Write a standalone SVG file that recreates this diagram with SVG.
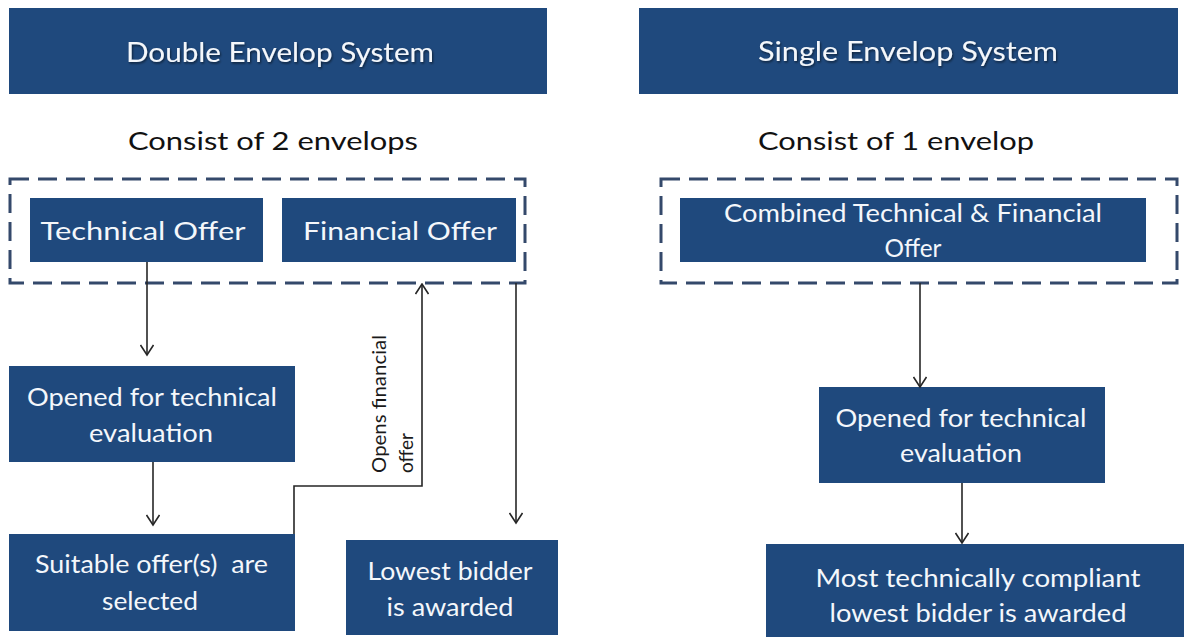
<svg xmlns="http://www.w3.org/2000/svg" width="1184" height="637" viewBox="0 0 1184 637">
  <style>
    .box { fill: #1f497d; }
    .dash { fill: none; stroke: #34496b; stroke-width: 3; stroke-dasharray: 19 9; }
    .t { font-family: Lato, "Open Sans", "Liberation Sans", sans-serif; fill: #f4f7fb; text-anchor: middle; }
    .title { font-size: 26px; }
    .bt { font-size: 25px; }
    .k { font-family: Lato, "Open Sans", "Liberation Sans", sans-serif; fill: #111111; font-size: 25px; text-anchor: middle; }
    .rot { font-family: Lato, "Open Sans", "Liberation Sans", sans-serif; fill: #1a1a1a; font-size: 20px; }
    .c { fill: none; stroke: #262626; stroke-width: 1.6; marker-end: url(#arr); }
  </style>
  <defs>
    <marker id="arr" markerUnits="userSpaceOnUse" markerWidth="14" markerHeight="14" viewBox="0 0 14 14" refX="12.5" refY="7" orient="auto">
      <path d="M2.5,0.5 L12.5,7 L2.5,13.5" fill="none" stroke="#262626" stroke-width="1.6"/>
    </marker>
    <filter id="sh" x="-5%" y="-20%" width="110%" height="140%">
      <feDropShadow dx="1" dy="1.5" stdDeviation="0.8" flood-color="#000000" flood-opacity="0.55"/>
    </filter>
  </defs>

  <g id="title-double">
    <rect class="box" x="9" y="8" width="538" height="86"/>
    <text class="t title" x="280" y="62" textLength="308" lengthAdjust="spacingAndGlyphs" filter="url(#sh)">Double Envelop System</text>
  </g>
  <g id="title-single">
    <rect class="box" x="639" y="8" width="539" height="86"/>
    <text class="t title" x="908" y="61" textLength="300" lengthAdjust="spacingAndGlyphs" filter="url(#sh)">Single Envelop System</text>
  </g>

  <g id="consist-2">
    <text class="k" x="273" y="150" textLength="290" lengthAdjust="spacingAndGlyphs">Consist of 2 envelops</text>
  </g>
  <g id="consist-1">
    <text class="k" x="896" y="150" textLength="276" lengthAdjust="spacingAndGlyphs">Consist of 1 envelop</text>
  </g>

  <g id="envelope-double">
    <rect class="dash" x="10" y="179" width="515" height="104"/>
  </g>
  <g id="envelope-single">
    <rect class="dash" x="661" y="179" width="516" height="104"/>
  </g>

  <g id="technical-offer">
    <rect class="box" x="30" y="198" width="233" height="64"/>
    <text class="t bt" x="143" y="240" textLength="205" lengthAdjust="spacingAndGlyphs">Technical Offer</text>
  </g>
  <g id="financial-offer">
    <rect class="box" x="282" y="198" width="234" height="64"/>
    <text class="t bt" x="400" y="240" textLength="194" lengthAdjust="spacingAndGlyphs">Financial Offer</text>
  </g>
  <g id="combined-offer">
    <rect class="box" x="680" y="198" width="466" height="64"/>
    <text class="t bt" x="913" y="222" textLength="378" lengthAdjust="spacingAndGlyphs">Combined Technical &amp; Financial</text>
    <text class="t bt" x="913" y="257" textLength="57" lengthAdjust="spacingAndGlyphs">Offer</text>
  </g>

  <g id="opened-left">
    <rect class="box" x="9" y="366" width="286" height="96"/>
    <text class="t bt" x="152" y="406" textLength="250" lengthAdjust="spacingAndGlyphs">Opened for technical</text>
    <text class="t bt" x="151" y="442" textLength="124" lengthAdjust="spacingAndGlyphs">evaluation</text>
  </g>
  <g id="suitable">
    <rect class="box" x="9" y="534" width="286" height="97"/>
    <text class="t bt" x="151.5" y="573" textLength="233" lengthAdjust="spacingAndGlyphs" style="white-space:pre">Suitable offer(s)  are</text>
    <text class="t bt" x="150" y="610" textLength="96" lengthAdjust="spacingAndGlyphs">selected</text>
  </g>
  <g id="lowest">
    <rect class="box" x="346" y="540" width="212" height="95"/>
    <text class="t bt" x="450" y="580" textLength="165" lengthAdjust="spacingAndGlyphs">Lowest bidder</text>
    <text class="t bt" x="450" y="616" textLength="127" lengthAdjust="spacingAndGlyphs">is awarded</text>
  </g>
  <g id="opened-right">
    <rect class="box" x="819" y="387" width="286" height="96"/>
    <text class="t bt" x="961" y="427" textLength="251" lengthAdjust="spacingAndGlyphs">Opened for technical</text>
    <text class="t bt" x="961" y="462" textLength="122" lengthAdjust="spacingAndGlyphs">evaluation</text>
  </g>
  <g id="most-compliant">
    <rect class="box" x="766" y="544" width="430" height="100"/>
    <text class="t bt" x="978" y="587" textLength="325" lengthAdjust="spacingAndGlyphs">Most technically compliant</text>
    <text class="t bt" x="978" y="622" textLength="297" lengthAdjust="spacingAndGlyphs">lowest bidder is awarded</text>
  </g>

  <g id="connectors">
    <path class="c" d="M147,262 V355"/>
    <path class="c" d="M153,462 V525"/>
    <path class="c" d="M294,534 V486 H422 V284"/>
    <path class="c" d="M516,283 V523"/>
    <path class="c" d="M920,283 V387"/>
    <path class="c" d="M962,483 V543"/>
    <text class="rot" transform="translate(386,473) rotate(-90)" textLength="138" lengthAdjust="spacingAndGlyphs">Opens financial</text>
    <text class="rot" transform="translate(413,473) rotate(-90)" textLength="40" lengthAdjust="spacingAndGlyphs">offer</text>
  </g>
</svg>
